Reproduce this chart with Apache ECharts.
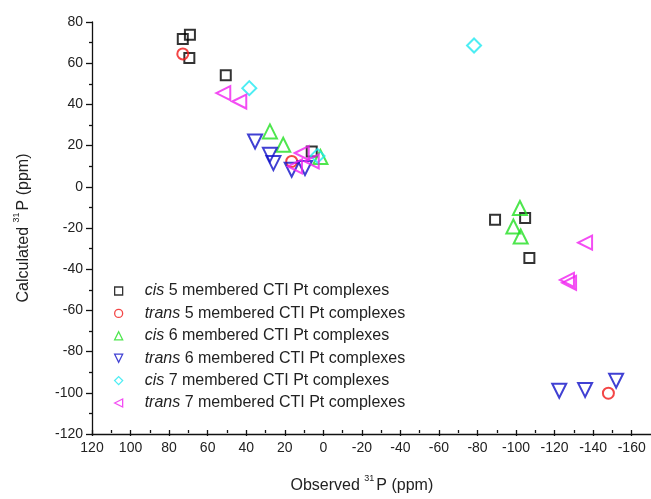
<!DOCTYPE html>
<html>
<head>
<meta charset="utf-8">
<script src="https://cdn.jsdelivr.net/npm/echarts@6/dist/echarts.min.js"></script>
<style>
html,body{margin:0;padding:0;background:#fff;}
#chart{width:651px;height:499px;}
</style>
</head>
<body>
<div id="chart"></div>
<script>
// Observed (x) vs Calculated (y) 31P shifts, ppm
const cis5 = [[72.9,71.8],[69.2,73.8],[69.5,62.5],[50.6,54.1],[6.0,17.1],[-89.1,-16.0],[-104.7,-15.2],[-106.9,-34.6]];
const trans5 = [[72.9,64.5],[16.4,12.3],[-147.9,-100.2]];
const cis6 = [[27.7,26.9],[20.8,20.4],[1.5,14.5],[-102.0,-10.3],[-98.6,-19.3],[-102.4,-24.1]];
const trans6 = [[35.4,22.0],[27.7,15.5],[25.9,11.5],[16.4,8.3],[9.5,9.1],[-122.4,-99.0],[-135.8,-98.6],[-151.9,-94.1]];
const cis7 = [[-78.2,68.6],[38.4,47.9],[3.0,15.0]];
const trans7 = [[51.9,45.5],[43.6,41.4],[11.2,16.4],[14.7,9.9],[6.0,12.3],[-135.8,-27.1],[-126.4,-45.2],[-127.5,-46.6]];

const seriesNames = [
  'cis 5 membered CTI Pt complexes',
  'trans 5 membered CTI Pt complexes',
  'cis 6 membered CTI Pt complexes',
  'trans 6 membered CTI Pt complexes',
  'cis 7 membered CTI Pt complexes',
  'trans 7 membered CTI Pt complexes'
];
const xTitle = ['Observed ', '31', 'P (ppm)'];
const yTitle = ['Calculated ', '31', 'P (ppm)'];

const FONT = 'Liberation Sans, Arial, sans-serif';
const chart = echarts.init(document.getElementById('chart'));

const symbols = [['rect', 10, 0], ['circle', 11, 0], ['triangle', 14, 0], ['triangle', 14, 180], ['diamond', 14, 0], ['triangle', 14, 90]];
const legendIcons = ['rect', 'circle', 'path://M5,0 L10,10 L0,10 Z', 'path://M0,0 L10,0 L5,10 Z', 'diamond', 'path://M0,5 L10,0 L10,10 Z'];
const colors = ['#000000', '#f01818', '#22e022', '#1010c8', '#20e8f0', '#f020f0'];

function sc(i, data) {
  return {
    type: 'scatter', name: seriesNames[i], data: data, xAxisIndex: 0, yAxisIndex: 0,
    symbol: symbols[i][0], symbolSize: symbols[i][1], symbolRotate: symbols[i][2],
    itemStyle: { color: 'rgba(0,0,0,0)', borderColor: colors[i], borderWidth: 2 },
    emphasis: { disabled: true }, z: 3
  };
}

const titleRich = {
  a: { fontSize: 16, fontFamily: FONT, color: '#222', lineHeight: 20, verticalAlign: 'bottom' },
  s: { fontSize: 9, fontFamily: FONT, color: '#222', lineHeight: 20, verticalAlign: 'top', padding: [0, 2, 0, 0] }
};

const option = {
  animation: false,
  backgroundColor: '#fff',
  grid: [
    { left: 92, top: 22, width: 559, height: 412 },
    { left: 92, top: 22, width: 539.7, height: 412 }
  ],
  xAxis: [
    { gridIndex: 0, type: 'value', min: -170, max: 120, inverse: true,
      axisLine: { show: true, onZero: false, lineStyle: { color: '#111', width: 1.3 } },
      axisTick: { show: false }, axisLabel: { show: false }, splitLine: { show: false } },
    { gridIndex: 1, type: 'value', min: -160, max: 120, interval: 20, inverse: true,
      axisLine: { show: false, onZero: false },
      axisTick: { show: true, length: 6, lineStyle: { color: '#111', width: 1.3 } },
      minorTick: { show: true, splitNumber: 2, length: 3, lineStyle: { color: '#111', width: 1.3 } },
      axisLabel: { fontSize: 14, fontFamily: FONT, color: '#222', margin: 11 },
      splitLine: { show: false },
      name: '{a|' + xTitle[0] + '}{s|' + xTitle[1] + '}{a|' + xTitle[2] + '}',
      nameLocation: 'middle', nameGap: 44,
      nameTextStyle: { rich: titleRich } }
  ],
  yAxis: [
    { gridIndex: 0, type: 'value', min: -120, max: 80, interval: 20,
      axisLine: { show: true, onZero: false, lineStyle: { color: '#111', width: 1.3 } },
      axisTick: { show: true, length: 6, lineStyle: { color: '#111', width: 1.3 } },
      minorTick: { show: true, splitNumber: 2, length: 3, lineStyle: { color: '#111', width: 1.3 } },
      axisLabel: { fontSize: 14, fontFamily: FONT, color: '#222', margin: 9 },
      splitLine: { show: false },
      name: '{a|' + yTitle[0] + '}{s|' + yTitle[1] + '}{a|' + yTitle[2] + '}',
      nameLocation: 'middle', nameGap: 60,
      nameTextStyle: { rich: titleRich } },
    { gridIndex: 1, type: 'value', min: -120, max: 80, show: false }
  ],
  legend: {
    orient: 'vertical', left: 109, top: 278,
    itemWidth: 8, itemHeight: 8, itemGap: 6.4,
    itemStyle: { borderWidth: 1.3 },
    selectedMode: false,
    formatter: function (n) { return n.replace(/^(cis|trans)/, '{i|$1}'); },
    textStyle: { fontSize: 16, fontFamily: FONT, color: '#222', lineHeight: 16,
      rich: { i: { fontSize: 16, fontFamily: FONT, fontStyle: 'italic', color: '#222', lineHeight: 16, padding: [0, 0, 0, 17] } } },
    data: seriesNames.map(function (n, i) { return { name: n, icon: legendIcons[i] }; })
  },
  series: [
    sc(0, cis5), sc(1, trans5), sc(2, cis6), sc(3, trans6), sc(4, cis7), sc(5, trans7)
  ]
};
chart.setOption(option);
</script>
</body>
</html>
